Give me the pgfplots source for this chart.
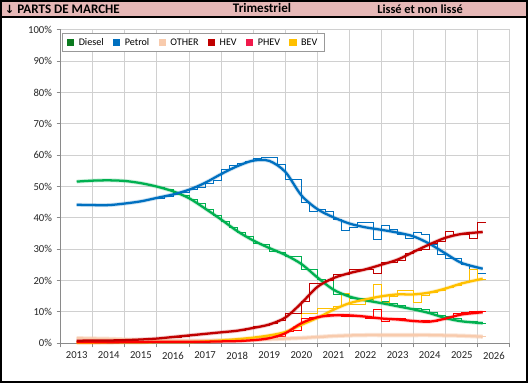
\documentclass[border=0pt]{standalone}
\usepackage{fontspec}
\setmainfont{Carlito}
\newfontfamily\dejavu{DejaVu Sans}
\usepackage{pgfplots}
\usepackage{pgfplotstable}
\pgfplotsset{compat=1.18}
\definecolor{hdr}{HTML}{E6B8B7}
\definecolor{cdiesel}{HTML}{00B050}
\definecolor{ldiesel}{HTML}{0B7A1F}
\definecolor{cpetrol}{HTML}{0070C0}
\definecolor{cother}{HTML}{F8CBAD}
\definecolor{chev}{HTML}{C00000}
\definecolor{cphev}{HTML}{FF0000}
\definecolor{lphev}{HTML}{F0194B}
\definecolor{cbev}{HTML}{FFC000}
\definecolor{gridc}{HTML}{D0D0D0}
\definecolor{axisc}{HTML}{8A8A8A}

\pgfplotstableread{
t D P O H PH B
2013.5 51.6 44.2 1.6 0.8 0.3 0.2
2014.0 51.9 44.1 1.5 0.9 0.3 0.2
2014.5 52.0 44.1 1.4 0.9 0.3 0.3
2015.0 51.8 44.6 1.2 1.0 0.4 0.3
2015.5 51.1 45.3 1.0 1.2 0.4 0.3
2016.0 50.0 46.4 0.9 1.5 0.5 0.4
2016.5 48.5 47.5 0.8 2.0 0.5 0.4
2017.0 46.3 49.0 0.8 2.5 0.5 0.4
2017.5 43.0 51.2 0.8 3.0 0.5 0.6
2018.0 39.5 54.0 0.9 3.5 0.6 0.9
2018.5 35.8 56.5 1.0 4.0 0.7 1.3
2019.0 32.8 58.3 1.2 4.9 1.0 1.8
2019.5 30.4 58.2 1.3 6.0 1.6 2.5
2020.0 28.2 54.7 1.5 8.2 3.2 3.6
2020.5 25.3 47.2 1.7 12.8 6.4 5.9
2021.0 21.0 42.8 2.0 18.0 8.3 8.1
2021.5 17.1 40.2 2.3 20.8 8.9 10.7
2022.0 14.9 38.2 2.5 22.4 8.9 12.8
2022.5 13.7 37.0 2.6 23.6 8.5 14.0
2023.0 12.8 36.2 2.6 25.1 7.9 15.0
2023.5 11.8 35.3 2.6 26.7 7.6 15.6
2024.0 10.8 34.1 2.6 29.2 7.1 15.6
2024.5 9.6 31.7 2.6 31.6 6.9 16.2
2025.0 8.0 28.6 2.5 33.7 7.9 17.5
2025.5 7.0 25.6 2.4 34.9 9.2 19.1
2026.15 6.4 23.8 2.1 35.5 9.9 20.6
}\smoothtab

\pgfplotstableread{
t D P O H PH B
2016.00 49.8 46.3 0.9 1.4 0.5 0.4
2016.25 49.0 46.8 0.8 1.7 0.5 0.4
2016.50 48.2 47.4 0.8 2.0 0.5 0.4
2016.75 47.3 48.0 0.8 2.3 0.5 0.4
2017.00 45.9 49.0 0.8 2.6 0.5 0.4
2017.25 44.6 49.6 0.8 2.9 0.5 0.5
2017.50 42.6 51.0 0.8 3.1 0.5 0.6
2017.75 40.8 51.8 0.9 3.4 0.6 0.7
2018.00 39.0 55.3 0.9 3.7 0.6 0.9
2018.25 37.0 56.8 1.0 3.9 0.7 1.1
2018.50 35.5 57.5 1.0 4.2 0.7 1.3
2018.75 34.0 58.0 1.1 4.6 0.8 1.5
2019.00 32.0 59.0 1.2 5.4 1.0 1.7
2019.25 31.5 59.3 1.2 5.6 1.2 2.0
2019.50 29.2 59.3 1.3 6.4 1.6 2.4
2019.75 29.0 57.1 1.4 7.2 2.3 3.0
2020.00 27.8 52.4 1.5 9.6 3.6 3.6
2020.25 27.8 52.4 1.6 9.6 4.0 5.3
2020.50 23.5 44.9 1.7 13.3 7.8 9.6
2020.75 23.5 42.2 1.8 19.2 8.1 9.6
2021.00 20.3 42.7 2.0 19.2 8.4 11.2
2021.25 20.1 42.2 2.1 20.0 9.3 11.2
2021.50 15.5 39.5 2.2 21.9 8.8 11.7
2021.75 15.5 36.0 2.4 21.9 8.5 16.0
2022.00 14.4 36.9 2.5 23.5 8.4 12.5
2022.25 14.4 38.7 2.5 23.5 8.4 12.5
2022.50 14.0 38.5 2.6 23.5 8.0 13.3
2022.75 13.1 33.1 2.6 22.4 10.7 18.8
2023.00 13.2 37.7 2.6 25.8 7.1 13.1
2023.25 12.6 36.3 2.6 25.8 7.8 15.0
2023.50 12.0 34.7 2.6 26.3 7.9 16.8
2023.75 11.0 33.4 2.6 28.8 7.4 16.8
2024.00 11.0 35.3 2.6 29.5 6.9 13.1
2024.25 10.8 34.7 2.6 30.0 7.2 15.3
2024.50 9.8 31.5 2.6 32.0 7.0 16.2
2024.75 8.9 28.3 2.6 32.5 7.6 17.0
2025.00 8.6 27.2 2.5 35.8 8.3 17.7
2025.25 8.0 27.0 2.5 34.7 9.4 18.5
2025.50 7.1 25.1 2.4 34.7 9.9 19.3
2025.75 6.8 23.5 2.3 33.3 10.2 23.5
2026.00 6.4 22.4 2.2 38.5 10.1 20.3
2026.25 6.4 22.4 2.2 38.5 10.1 20.3
}\rawtab

\begin{document}
\begin{tikzpicture}
\useasboundingbox (0,0) rectangle (396pt,287.25pt);
\fill[white] (0,0) rectangle (396pt,287.25pt);
\fill[hdr] (0,274.5pt) rectangle (396pt,287.25pt);
\draw[black,line width=0.9pt] (0,274.5pt) -- (396pt,274.5pt);
\draw[black,line width=1.5pt] (0.75pt,0.75pt) rectangle (395.25pt,286.5pt);
\node[anchor=west,inner sep=0pt,font=\bfseries\fontsize{9.8}{11}\selectfont] at (3.5pt,280.6pt) {{\dejavu\fontsize{8.5}{10}\selectfont ↓} PARTS DE MARCHE};
\node[inner sep=0pt,font=\bfseries\fontsize{9.8}{11}\selectfont] at (196.5pt,281pt) {Trimestriel};
\node[inner sep=0pt,font=\bfseries\fontsize{9.3}{11}\selectfont] at (315pt,280.6pt) {Lissé et non lissé};
\begin{axis}[
  at={(45.5pt,29.8pt)}, anchor=south west,
  scale only axis, width=337pt, height=235pt,
  xmin=2013, xmax=2027, ymin=0, ymax=100,
  axis x line*=bottom, axis y line*=left,
  axis line style={axisc,line width=0.75pt},
  xtick={2013,2014,...,2027},
  x tick label as interval,
  xticklabels={2013,2014,2015,2016,2017,2018,2019,2020,2021,2022,2023,2024,2025,2026},
  ytick={0,10,...,100},
  yticklabel={\pgfmathprintnumber{\tick}\%},
  /pgf/number format/assume math mode=true,
  tick label style={font=\fontsize{8}{9}\selectfont, text=black!85},
  grid=major, major grid style={gridc,line width=0.75pt},
  tick align=outside, major tick length=3pt,
  tick style={axisc,line width=0.75pt},
  xtick pos=bottom, ytick pos=left,
  clip=false,
  legend columns=6,
  legend style={at={(0.004,0.99)}, anchor=north west, draw=black!40, line width=0.75pt,
    font=\fontsize{7.6}{8.5}\selectfont, inner xsep=3pt, inner ysep=1.5pt,
    /tikz/every odd column/.append style={column sep=1.5pt},
    /tikz/every even column/.append style={column sep=5pt}},
  legend image code/.code={\fill[#1] (0pt,-2.3pt) rectangle (4.6pt,2.3pt);},
]
\addlegendimage{color=ldiesel}\addlegendentry{Diesel}
\addlegendimage{color=cpetrol}\addlegendentry{Petrol}
\addlegendimage{color=cother}\addlegendentry{OTHER}
\addlegendimage{color=chev}\addlegendentry{HEV}
\addlegendimage{color=lphev}\addlegendentry{PHEV}
\addlegendimage{color=cbev}\addlegendentry{BEV}
% raw quarterly steps
\addplot[const plot, cother, line width=0.75pt, forget plot] table[x=t,y=O] {\rawtab};
\addplot[const plot, cdiesel, line width=0.75pt, forget plot] table[x=t,y=D] {\rawtab};
\addplot[const plot, cpetrol, line width=0.75pt, forget plot] table[x=t,y=P] {\rawtab};
\addplot[const plot, cbev, line width=0.75pt, forget plot] table[x=t,y=B] {\rawtab};
\addplot[const plot, cphev, line width=0.75pt, forget plot] table[x=t,y=PH] {\rawtab};
\addplot[const plot, chev, line width=0.75pt, forget plot] table[x=t,y=H] {\rawtab};
% shadows
\addplot[smooth, cother, line width=3.2pt, opacity=0.5, forget plot] table[x=t,y=O] {\smoothtab};
\addplot[smooth, cdiesel, line width=3pt, opacity=0.2, forget plot] table[x=t,y=D] {\smoothtab};
\addplot[smooth, cpetrol, line width=3pt, opacity=0.2, forget plot] table[x=t,y=P] {\smoothtab};
\addplot[smooth, cbev, line width=3pt, opacity=0.2, forget plot] table[x=t,y=B] {\smoothtab};
\addplot[smooth, cphev, line width=3pt, opacity=0.2, forget plot] table[x=t,y=PH] {\smoothtab};
\addplot[smooth, chev, line width=3pt, opacity=0.2, forget plot] table[x=t,y=H] {\smoothtab};
% smooth
\addplot[smooth, cother, line width=1.7pt, forget plot] table[x=t,y=O] {\smoothtab};
\addplot[smooth, cdiesel, line width=1.7pt, forget plot] table[x=t,y=D] {\smoothtab};
\addplot[smooth, cpetrol, line width=1.7pt, forget plot] table[x=t,y=P] {\smoothtab};
\addplot[smooth, cbev, line width=1.7pt, forget plot] table[x=t,y=B] {\smoothtab};
\addplot[smooth, cphev, line width=1.7pt, forget plot] table[x=t,y=PH] {\smoothtab};
\addplot[smooth, chev, line width=1.7pt, forget plot] table[x=t,y=H] {\smoothtab};
\end{axis}
\end{tikzpicture}
\end{document}
